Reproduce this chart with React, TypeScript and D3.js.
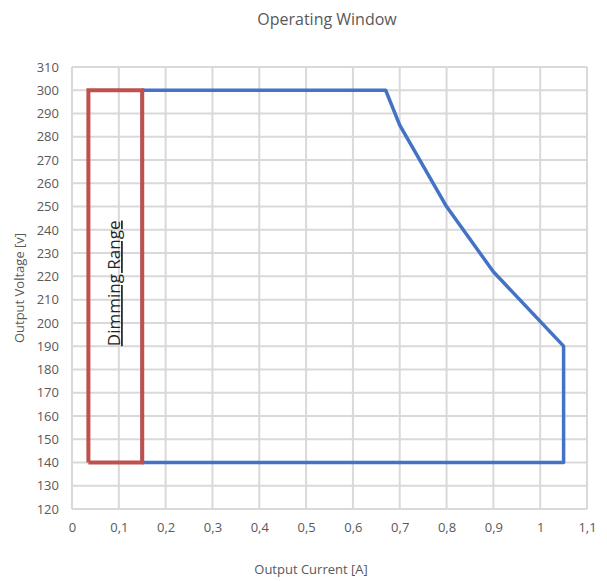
import React, { useEffect, useRef } from "react";
import * as d3 from "d3";

// operating window (blue) and dimming range (red), current [A] vs voltage [V]
const windowCurrent = [0.15, 0.15, 0.67, 0.7, 0.8, 0.9, 1.05, 1.05, 0.15];
const windowVoltage = [140, 300, 300, 285, 250, 222, 190, 140, 140];
const dimmingCurrent = [0.035, 0.035, 0.15, 0.15, 0.035];
const dimmingVoltage = [140, 300, 300, 140, 140];
const xTicks = [0, 0.1, 0.2, 0.3, 0.4, 0.5, 0.6, 0.7, 0.8, 0.9, 1, 1.1];
const yTicks = [120, 130, 140, 150, 160, 170, 180, 190, 200, 210, 220, 230, 240, 250, 260, 270, 280, 290, 300, 310];

export default function App() {
  const svgRef = useRef<SVGSVGElement | null>(null);

  useEffect(() => {
    const svg = d3.select(svgRef.current);
    svg.selectAll("*").remove();

    const width = 607, height = 581;
    const margin = { top: 67, right: 20, bottom: 72, left: 72 };
    const font = "'Open Sans', sans-serif";
    const textColor = "#595959";

    const x = d3.scaleLinear().domain([0, 1.1]).range([margin.left, width - margin.right]);
    const y = d3.scaleLinear().domain([120, 310]).range([height - margin.bottom, margin.top]);

    const locale = d3.formatLocale({ decimal: ",", thousands: ".", grouping: [3], currency: ["", ""] });
    const fmt = locale.format("~g");

    // grid
    const grid = svg.append("g").attr("stroke", "#d9d9d9").attr("stroke-width", 2);
    grid.selectAll("line.v").data(xTicks).enter().append("line")
      .attr("x1", d => x(d)).attr("x2", d => x(d))
      .attr("y1", y(120)).attr("y2", y(310));
    grid.selectAll("line.h").data(yTicks).enter().append("line")
      .attr("x1", x(0)).attr("x2", x(1.1))
      .attr("y1", d => y(d)).attr("y2", d => y(d));

    // x axis labels
    const xAxis = svg.append("g")
      .attr("transform", `translate(0,${y(120)})`)
      .call(d3.axisBottom(x).tickValues(xTicks).tickFormat(d => fmt(d as number)).tickSize(0).tickPadding(14));
    xAxis.select(".domain").remove();
    xAxis.selectAll("text").attr("fill", textColor).attr("font-size", 13).attr("font-family", font);

    const yAxis = svg.append("g")
      .attr("transform", `translate(${x(0)},0)`)
      .call(d3.axisLeft(y).tickValues(yTicks).tickFormat(d => fmt(d as number)).tickSize(0).tickPadding(13));
    yAxis.select(".domain").remove();
    yAxis.selectAll("text").attr("fill", textColor).attr("font-size", 13).attr("font-family", font);

    const line = d3.line<[number, number]>().x(d => x(d[0])).y(d => y(d[1]));

    svg.append("path")
      .datum(windowCurrent.map((c, i) => [c, windowVoltage[i]] as [number, number]))
      .attr("d", line)
      .attr("fill", "none")
      .attr("stroke", "#4472C4")
      .attr("stroke-width", 3.5)
      .attr("stroke-linejoin", "round");

    svg.append("path")
      .datum(dimmingCurrent.map((c, i) => [c, dimmingVoltage[i]] as [number, number]))
      .attr("d", line)
      .attr("fill", "none")
      .attr("stroke", "#C0504D")
      .attr("stroke-width", 4)
      .attr("stroke-linejoin", "miter");

    // Dimming Range label
    svg.append("text")
      .attr("transform", `translate(${x(0.092) + 5},${y(217)}) rotate(-90)`)
      .attr("text-anchor", "middle")
      .attr("font-family", font)
      .attr("font-size", 17)
      .attr("fill", "#222")
      .attr("text-decoration", "underline")
      .text("Dimming Range");

    svg.append("text")
      .attr("x", 327).attr("y", 25)
      .attr("text-anchor", "middle")
      .attr("font-family", font)
      .attr("font-size", 16)
      .attr("fill", textColor)
      .text("Operating Window");

    svg.append("text")
      .attr("x", 311).attr("y", 574)
      .attr("text-anchor", "middle")
      .attr("font-family", font)
      .attr("font-size", 13)
      .attr("fill", textColor)
      .text("Output Current [A]");

    svg.append("text")
      .attr("transform", `translate(24,${y(215)}) rotate(-90)`)
      .attr("text-anchor", "middle")
      .attr("font-family", font)
      .attr("font-size", 13)
      .attr("fill", textColor)
      .text("Output Voltage [v]");
  }, []);

  return (
    <svg ref={svgRef} width={607} height={581} style={{ position: "absolute", left: 0, top: 0, background: "#fff" }}></svg>
  );
}
